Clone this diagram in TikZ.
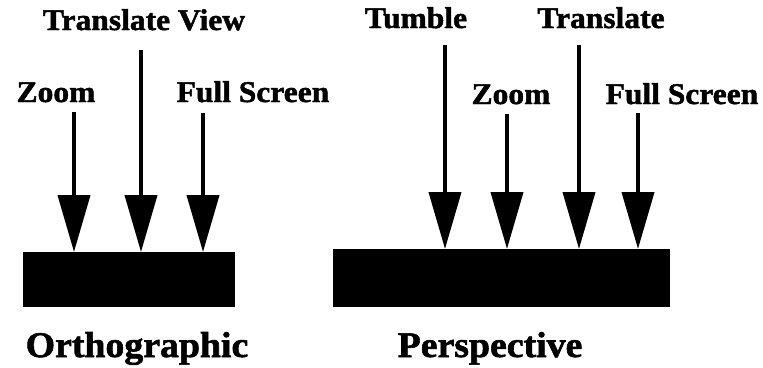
\documentclass[tikz,border=0pt]{standalone}
\usepackage{fontspec}
\setmainfont{Liberation Serif}[FakeStretch=1.05,BoldFeatures={FakeBold=1.6}]
\usetikzlibrary{arrows.meta}
\begin{document}
\begin{tikzpicture}[x=1pt,y=-1pt,
  lbl/.style={font=\bfseries\fontsize{30}{30}\selectfont, anchor=base, inner sep=0pt},
  ttl/.style={font=\bfseries\fontsize{36}{36}\selectfont, anchor=base, inner sep=0pt},
  bar/.style={fill=black, draw=none, inner sep=0pt, outer sep=0pt},
  arr/.style={line width=4pt, -{Triangle[width=32pt,length=57pt]}}]
\useasboundingbox (0,0) rectangle (763,367);
% boxes
\node[bar, minimum width=212pt, minimum height=55pt] (ortho) at (129,279.5) {};
\node[bar, minimum width=337pt, minimum height=58pt] (persp) at (501.5,278) {};
% labels
\node[lbl] (lz) at (56,102) {Zoom};
\node[lbl] (ltv) at (144,30) {Translate View};
\node[lbl] (lfs) at (253,102) {Full Screen};
\node[ttl] (tortho) at (137,357) {Orthographic};
\node[lbl] (rtu) at (416,28) {Tumble};
\node[lbl] (rtr) at (601,28) {Translate};
\node[lbl] (rz) at (511,104) {Zoom};
\node[lbl] (rfs) at (682,104) {Full Screen};
\node[ttl] (tpersp) at (490,357) {Perspective};
% arrow starts
\coordinate (a1) at (74,112);
\coordinate (a2) at (141,50);
\coordinate (a3) at (203,113);
\coordinate (b1) at (445,45);
\coordinate (b2) at (507,114);
\coordinate (b3) at (579,45);
\coordinate (b4) at (638,113);
% arrows
\draw[arr] (a1) -- (a1 |- ortho.north);
\draw[arr] (a2) -- (a2 |- ortho.north);
\draw[arr] (a3) -- (a3 |- ortho.north);
\draw[arr] (b1) -- (b1 |- persp.north);
\draw[arr] (b2) -- (b2 |- persp.north);
\draw[arr] (b3) -- (b3 |- persp.north);
\draw[arr] (b4) -- (b4 |- persp.north);
\end{tikzpicture}
\end{document}
